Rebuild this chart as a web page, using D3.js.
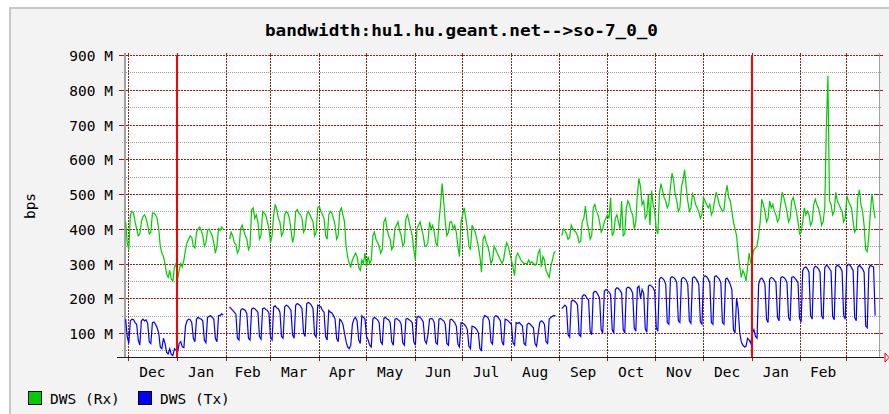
<!DOCTYPE html>
<html><head><meta charset="utf-8">
<script src="https://cdn.jsdelivr.net/npm/d3@7"></script>
<style>
html,body{margin:0;padding:0;background:#fff;}
svg{display:block;}
text{font-family:"DejaVu Sans Mono",monospace;fill:#000;}
</style></head>
<body>
<svg id="chart" width="889" height="414"></svg>
<script>
// ---------- DATA ----------
const title = "bandwidth:hu1.hu.geant.net-->so-7_0_0";
const yLabel = "bps";
const seriesNames = ["DWS (Rx)", "DWS (Tx)"];
const seriesColors = ["#00cc00", "#0000ff"];
const yTicks = [100, 200, 300, 400, 500, 600, 700, 800, 900];      // M bps
const yMinor = [50, 150, 250, 350, 450, 550, 650, 750, 850];
const monthNames = ["Jan","Feb","Mar","Apr","May","Jun","Jul","Aug","Sep","Oct","Nov","Dec"];
const firstDay = "2002-11-29";   // daily averages start (Fri)
// Rx daily averages (M bps), first 3 days then Mon..Sun weeks
const rx = [
 420,360,340,
 440,450,445,420,400,380,385,
 420,435,440,430,410,385,390,
 445,445,440,430,400,350,330,
 320,300,270,260,280,255,250,
 290,300,255,280,300,290,310,
 340,360,370,380,375,350,345,
 390,400,405,395,380,350,360,
 395,400,390,380,360,330,350,
 400,395,405,400,null,null,null,
 370,390,380,360,355,330,340,
 400,410,395,380,370,340,350,
 455,460,430,440,420,370,380,
 450,445,440,420,400,360,380,
 440,470,455,430,420,380,390,
 440,450,445,430,400,360,380,
 450,455,445,440,430,390,400,
 440,450,440,430,420,380,390,
 460,465,450,440,430,380,370,
 440,450,445,430,410,370,380,
 450,460,440,420,350,320,300,
 290,310,320,330,320,290,280,
 310,300,330,290,320,300,310,
 380,390,370,360,350,330,340,
 420,430,400,380,370,340,350,
 400,410,420,395,380,350,360,
 430,440,420,400,380,340,310,
 400,410,420,400,380,350,350,
 360,420,400,410,390,360,350,
 420,470,530,480,420,380,390,
 420,420,400,410,390,350,320,
 420,440,460,430,400,350,340,
 410,400,390,370,350,320,275,
 370,380,360,350,330,300,310,
 350,340,330,320,310,300,310,
 340,360,350,330,310,290,265,
 320,330,320,310,305,300,300,
 300,310,300,305,300,295,300,
 330,340,290,320,310,280,270,
 260,290,310,330,335,null,null,
 null,380,400,395,385,370,375,
 410,400,395,390,380,360,365,
 420,430,465,420,400,370,380,
 460,470,450,440,420,390,400,
 420,430,440,430,490,380,390,
 430,440,420,400,480,380,385,
 460,480,470,450,440,400,420,
 500,545,520,470,480,430,440,
 500,410,510,470,450,400,385,
 500,530,510,490,480,460,470,
 520,560,540,500,480,450,460,
 520,540,570,520,480,450,460,
 500,490,470,460,450,430,440,
 490,480,470,460,470,440,450,
 480,505,490,470,460,450,455,
 500,525,490,480,450,420,400,
 380,330,290,260,280,270,250,
 290,330,300,320,340,345,350,
 380,420,485,470,450,420,430,
 480,460,470,450,440,420,430,
 470,505,490,470,450,420,430,
 480,490,470,450,420,385,390,
 420,460,440,450,440,410,420,
 470,485,470,460,440,410,420,
 460,690,840,480,470,440,450,
 505,480,470,460,450,420,430,
 495,480,470,460,420,390,400,
 490,512,470,450,410,340,334,
 380,450,500,460,430
];
// Tx daily averages (M bps)
const tx = [
 140,90,70,
 135,140,138,130,125,80,65,
 135,140,135,138,128,75,70,
 130,132,125,115,100,60,55,
 85,70,45,40,55,38,35,
 55,50,45,70,75,60,58,
 120,135,140,138,130,85,75,
 140,145,142,140,135,80,72,
 145,148,150,145,140,85,75,
 150,150,155,152,null,null,null,
 175,170,165,160,155,85,80,
 165,170,168,165,155,85,80,
 168,172,170,165,160,90,82,
 170,172,168,165,158,88,80,
 175,178,172,170,160,90,85,
 175,180,178,172,165,95,85,
 180,185,182,178,170,100,90,
 185,188,185,180,170,95,88,
 180,178,175,165,160,90,80,
 165,160,158,150,140,85,75,
 140,135,125,100,75,60,55,
 65,125,140,145,135,80,70,
 150,145,140,90,80,65,60,
 140,145,142,138,130,75,68,
 142,145,140,138,130,75,65,
 140,142,138,135,125,72,65,
 140,142,138,135,130,75,65,
 145,148,145,140,132,78,70,
 95,140,142,140,130,72,68,
 140,142,138,135,125,70,65,
 138,140,135,130,120,68,60,
 130,128,125,120,110,62,55,
 120,118,115,110,100,55,50,
 140,150,148,145,135,75,68,
 145,150,148,142,135,75,65,
 140,138,135,130,125,72,65,
 130,128,130,125,120,70,65,
 125,128,125,120,115,70,62,
 100,130,135,132,125,75,70,
 140,145,148,150,150,null,null,
 null,170,175,180,175,95,88,
 190,195,192,188,180,95,90,
 205,210,208,200,195,105,95,
 215,220,218,210,200,110,100,
 220,225,222,218,210,110,100,
 225,230,228,222,215,110,100,
 228,232,230,225,215,115,105,
 230,235,200,225,215,112,102,
 235,238,235,230,220,115,105,
 255,260,258,252,240,130,125,
 258,262,260,255,245,135,130,
 255,260,258,252,240,135,128,
 258,262,258,250,240,132,125,
 260,265,262,255,245,130,125,
 262,265,260,255,245,130,125,
 255,258,250,240,225,110,100,
 200,170,100,75,65,60,62,
 85,80,70,100,110,90,85,
 240,255,258,252,240,140,130,
 255,260,258,252,245,145,135,
 258,262,260,255,245,145,135,
 260,262,258,252,245,142,132,
 280,288,290,285,275,150,140,
 285,292,290,285,275,150,140,
 288,295,292,285,278,148,138,
 290,295,292,288,278,150,140,
 292,298,295,288,280,145,135,
 290,295,290,285,275,120,115,
 285,295,292,290,150
];

// ---------- LAYOUT ----------
const svg = d3.select("#chart");
const L = 124, R = 879, T = 55, B = 357;
const DAY = 864e5;
const dec1 = Date.UTC(2002, 11, 1);
const x = d3.scaleUtc()
  .domain([new Date(dec1 - 2.54 * DAY), new Date(dec1 + 476.95 * DAY)])
  .range([L, R]);
const y = d3.scaleLinear().domain([31, 900]).range([B, T]);
const px = v => Math.round(v) + 0.5;
const gridRed = "#8f1f1f", gridGray = "#9a9a9a";

// page frame
svg.append("rect").attr("x", 0).attr("y", 0).attr("width", 889).attr("height", 414).attr("fill", "#fff");
svg.append("rect").attr("x", 10).attr("y", 8).attr("width", 900).attr("height", 420)
  .attr("fill", "#f3f3f3").attr("stroke", "#c8c8c8").attr("stroke-width", 2);

// plot background
svg.append("rect").attr("x", L).attr("y", T).attr("width", R - L).attr("height", B - T).attr("fill", "#fff");

// title
svg.append("text").attr("x", 461.5).attr("y", 36).attr("text-anchor", "middle")
  .attr("font-size", 16).attr("font-weight", "bold")
  .attr("textLength", 393).attr("lengthAdjust", "spacingAndGlyphs").text(title);

// minor horizontal grid
const g = svg.append("g").attr("shape-rendering", "crispEdges");
yMinor.forEach(v => {
  g.append("line").attr("x1", L - 2).attr("x2", R + 2).attr("y1", px(y(v))).attr("y2", px(y(v)))
    .attr("stroke", gridGray).attr("stroke-dasharray", "1,1");
});
// months
const t0 = x.domain()[0], t1 = x.domain()[1];
const monthStarts = d3.utcMonth.range(d3.utcMonth.ceil(t0), t1);
monthStarts.forEach(m => {
  const xx = px(x(m));
  g.append("line").attr("x1", xx).attr("x2", xx).attr("y1", T).attr("y2", B)
    .attr("stroke", gridRed).attr("stroke-dasharray", "2,1");
  g.append("line").attr("x1", xx).attr("x2", xx).attr("y1", B).attr("y2", B + 4).attr("stroke", gridRed);
  g.append("line").attr("x1", xx).attr("x2", xx).attr("y1", T - 2).attr("y2", T + 2).attr("stroke", gridRed);
});
// major horizontal grid
yTicks.forEach(v => {
  const yy = px(y(v));
  g.append("line").attr("x1", L).attr("x2", R).attr("y1", yy).attr("y2", yy)
    .attr("stroke", gridRed).attr("stroke-dasharray", "2,1");
  g.append("line").attr("x1", L - 5).attr("x2", L + 3).attr("y1", yy).attr("y2", yy).attr("stroke", gridRed);
  g.append("line").attr("x1", R - 3).attr("x2", R + 4).attr("y1", yy).attr("y2", yy).attr("stroke", gridRed);
  svg.append("text").attr("x", 113).attr("y", yy + 5).attr("text-anchor", "end")
    .attr("font-size", 14.5).attr("fill", "#111").text(v + " M");
});

// axis frame lines
g.append("line").attr("x1", L + 0.5).attr("x2", L + 0.5).attr("y1", T - 2).attr("y2", B).attr("stroke", "#a0a0a0").attr("stroke-width", 2);
g.append("line").attr("x1", R + 0.5).attr("x2", R + 0.5).attr("y1", T - 2).attr("y2", B).attr("stroke", "#a0a0a0").attr("stroke-width", 1.5);

// month labels (centred in each month)
monthStarts.forEach(m => {
  const next = d3.utcMonth.offset(m, 1);
  if (next > t1) return;
  const cx = (x(m) + x(next)) / 2;
  svg.append("text").attr("x", cx).attr("y", 377).attr("text-anchor", "middle")
    .attr("font-size", 14.5).text(monthNames[m.getUTCMonth()]);
});

// series
const start = Date.parse(firstDay + "T12:00:00Z");
function toPoints(arr) {
  return arr.map((v, i) => ({ t: new Date(start + i * DAY), v }));
}
const line = d3.line().defined(d => d.v != null).curve(d3.curveLinear)
  .x(d => x(d.t)).y(d => y(d.v));
[rx, tx].forEach((arr, i) => {
  svg.append("path").datum(toPoints(arr)).attr("d", line)
    .attr("fill", "none").attr("stroke", seriesColors[i]).attr("stroke-width", 1.2)
    .attr("stroke-linejoin", "miter");
});

// year rules (red)
monthStarts.filter(m => m.getUTCMonth() === 0).forEach(m => {
  const xx = Math.round(x(m));
  svg.append("line").attr("x1", xx).attr("x2", xx).attr("y1", T).attr("y2", B)
    .attr("stroke", "#ff0000").attr("stroke-width", 2).attr("shape-rendering", "crispEdges");
});

// x axis baseline + arrow
g.append("line").attr("x1", L - 7).attr("x2", R + 5).attr("y1", B + 0.5).attr("y2", B + 0.5).attr("stroke", "#202020");
svg.append("path").attr("d", `M${R + 6},${B - 4} L${R + 6},${B + 5} L${R + 10},${B + 0.5} Z`)
  .attr("fill", "none").attr("stroke", "#ff0000").attr("stroke-width", 1);

// y label
svg.append("text").attr("transform", `translate(35,${(T + B) / 2}) rotate(-90)`)
  .attr("text-anchor", "middle").attr("font-size", 14.5).text(yLabel);

// legend
const legX = [28, 138];
seriesNames.forEach((n, i) => {
  svg.append("rect").attr("x", legX[i] + 0.5).attr("y", 391.5).attr("width", 13).attr("height", 13)
    .attr("fill", seriesColors[i]).attr("stroke", "#000").attr("shape-rendering", "crispEdges");
  svg.append("text").attr("x", legX[i] + 22).attr("y", 403.5).attr("font-size", 14.5).text(n);
});
</script>
</body></html>
